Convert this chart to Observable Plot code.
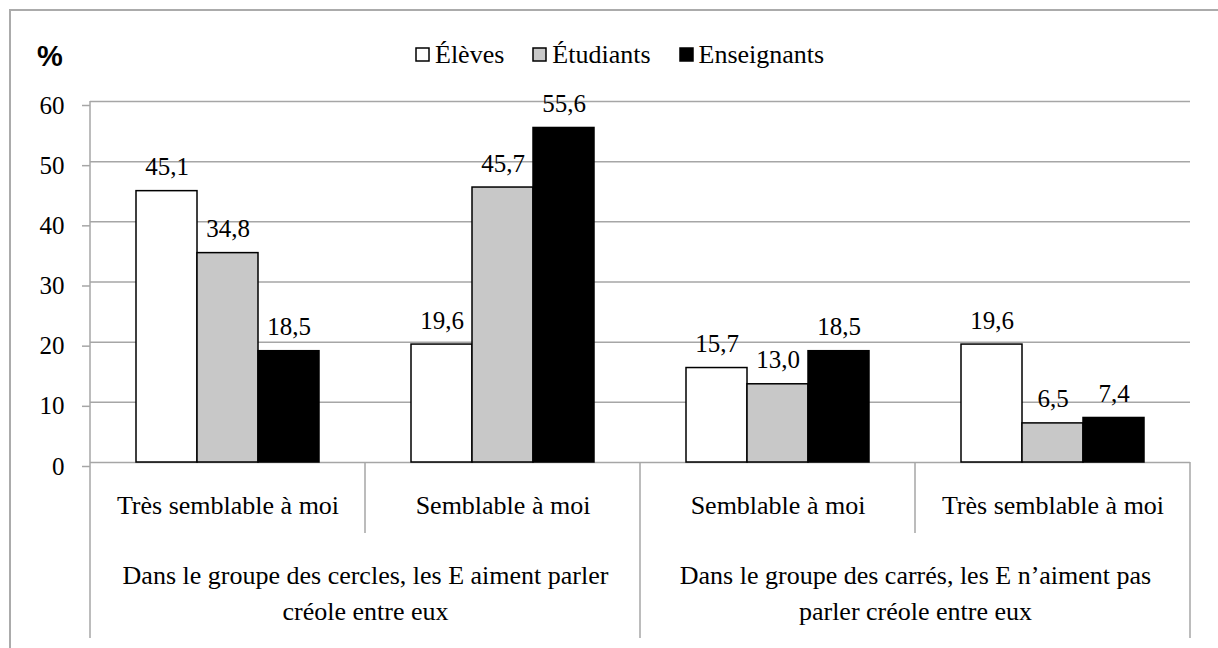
<!DOCTYPE html>
<html><head><meta charset="utf-8">
<script src="https://cdn.jsdelivr.net/npm/d3@7"></script>
<script src="https://cdn.jsdelivr.net/npm/@observablehq/plot@0.6"></script>
<style>
html,body{margin:0;padding:0;background:#fff;}
#wrap{position:relative;width:1218px;height:648px;overflow:hidden;}
#border{position:absolute;left:9px;top:9px;width:1260px;height:720px;border:2px solid #ababab;}
#head{position:relative;height:80px;}
#pct{position:absolute;left:37px;top:42px;font-weight:bold;font-size:29px;line-height:1;}
#legend{position:absolute;left:416px;top:38px;}
#chart{position:relative;}
.lg-swatches{font-size:26px!important;color:#000!important;margin:0!important;}
.lg-swatch{margin-right:29px!important;}
.lg-swatch > svg{margin-right:6px!important;overflow:visible;}
.lg-swatch rect{stroke:#000;stroke-width:1.5px;}
</style></head><body>
<div id="wrap"><div id="border"></div><div id="head"><div id="pct">%</div><div id="legend"></div></div><div id="chart"></div></div>
<script>
const serifFont = '"Liberation Serif"';
const sansFont = '"Liberation Sans"';

const series = ["Élèves", "Étudiants", "Enseignants"];
const fills = ["#ffffff", "#c8c8c8", "#000000"];
const categories = ["Très semblable à moi", "Semblable à moi", "Semblable à moi", "Très semblable à moi"];
const categoryGroup = [0, 0, 1, 1];
const groups = [
  "Dans le groupe des cercles, les E aiment parler\ncréole entre eux",
  "Dans le groupe des carrés, les E n’aiment pas\nparler créole entre eux"
];
const eleves = [45.1, 19.6, 15.7, 19.6];
const etudiants = [34.8, 45.7, 13.0, 6.5];
const enseignants = [18.5, 55.6, 18.5, 7.4];
const yTicks = [0, 10, 20, 30, 40, 50, 60];

const values = [eleves, etudiants, enseignants];
const data = categories.flatMap((c, i) => series.map((s, j) => ({i, series: s, value: values[j][i]})));
const catData = categories.map((label, i) => ({i, label}));
const groupData = groups.map((label, g) => ({i: categoryGroup.indexOf(g), label}));
const fmt = v => v.toFixed(1).replace(".", ",");

document.getElementById("pct").style.fontFamily = sansFont;

const legend = Plot.legend({color: {type: "ordinal", domain: series, range: fills}, legend: "swatches", swatchSize: 13, className: "lg"});
legend.style.fontFamily = serifFont;
legend.querySelectorAll("span, div").forEach(n => n.style.fontFamily = serifFont);
document.getElementById("legend").append(legend);

const chart = Plot.plot({
  width: 1218, height: 568,
  marginTop: 21, marginBottom: 186, marginLeft: 89, marginRight: 27,
  style: {fontSize: "26px", color: "#000", background: "transparent", overflow: "visible"},
  fx: {domain: d3.range(categories.length), padding: 0, axis: null},
  x: {domain: series, paddingInner: 0, paddingOuter: 0.75, axis: null},
  y: {domain: [0, 60]},
  color: {domain: series, range: fills},
  marks: [
    Plot.gridY(yTicks, {stroke: "#a6a6a6", strokeOpacity: 1, strokeWidth: 1.5}),
    Plot.axisY(yTicks, {tickSize: 8, tickPadding: 18, stroke: "#a6a6a6", strokeWidth: 1.5, fill: "#000", fontSize: 25, dy: 4, label: null, tickFormat: d => String(d)}),
    Plot.barY(data, {fx: "i", x: "series", y: "value", fill: "series", stroke: "#000", strokeWidth: 1.5}),
    Plot.text(data, {fx: "i", x: "series", y: "value", text: d => fmt(d.value), lineAnchor: "bottom", dy: -16, fontSize: 25, fill: "#000"}),
    Plot.text(catData, {fx: "i", text: "label", frameAnchor: "bottom", lineAnchor: "bottom", dy: 51, fill: "#000"}),
    Plot.text(groupData, {fx: "i", text: "label", frameAnchor: "bottom-right", textAnchor: "middle", lineAnchor: "bottom", lineHeight: 1.38, dy: 157, fill: "#000"})
  ]
});
chart.setAttribute("font-family", "Liberation Serif");
chart.style.fontFamily = serifFont;
chart.querySelectorAll("text, tspan, g").forEach(n => { n.removeAttribute("font-family"); n.style.fontFamily = serifFont; });
document.getElementById("chart").append(chart);

// hierarchical axis separators drawn from the plot's own fx and y scales
const fx = chart.scale("fx"), y = chart.scale("y");
const y0 = y.apply(0), yTop = y.apply(60);
const svg = d3.select(chart);
const g = svg.append("g").attr("stroke", "#a6a6a6").attr("stroke-width", 1.5);
const row1 = 71, row2 = 176;
const edges = categories.map((c, i) => ({x: fx.apply(i), groupStart: i === 0 || categoryGroup[i] !== categoryGroup[i - 1]}));
edges.push({x: fx.apply(categories.length - 1) + fx.bandwidth, groupStart: true});
g.append("line").attr("x1", edges[0].x).attr("x2", edges[0].x).attr("y1", yTop).attr("y2", y0);
for (const e of edges) {
  g.append("line").attr("x1", e.x).attr("x2", e.x).attr("y1", y0).attr("y2", y0 + (e.groupStart ? row2 : row1));
}
</script></body></html>
